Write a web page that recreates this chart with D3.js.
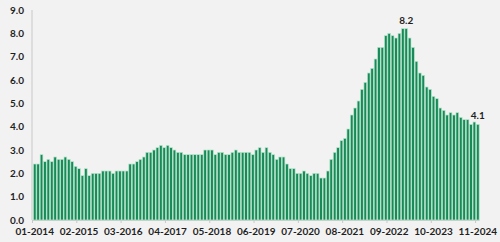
<!DOCTYPE html>
<html>
<head>
<meta charset="utf-8">
<script src="https://cdn.jsdelivr.net/npm/d3@7/dist/d3.min.js"></script>
<style>
  html, body { margin: 0; padding: 0; background: #f2f2f2; }
  svg { display: block; }
  text { font-family: Lato, "Open Sans", sans-serif; font-weight: 700; fill: #1f1f1f; }
</style>
</head>
<body>
<svg id="chart" width="500" height="242"></svg>
<script>
// Monthly values, 01-2014 .. 11-2024
const months = [];
for (let y = 2014; y <= 2024; y++) {
  for (let m = 1; m <= 12; m++) {
    if (y === 2024 && m > 11) break;
    months.push(String(m).padStart(2, "0") + "-" + y);
  }
}
const values = [
  2.4, 2.4, 2.8, 2.5, 2.6, 2.5, 2.7, 2.6, 2.6, 2.7, 2.6, 2.5,   // 2014
  2.3, 2.2, 1.9, 2.2, 1.9, 2.0, 2.0, 2.0, 2.1, 2.1, 2.1, 2.0,   // 2015
  2.1, 2.1, 2.1, 2.1, 2.4, 2.4, 2.5, 2.6, 2.7, 2.9, 2.9, 3.0,   // 2016
  3.1, 3.2, 3.1, 3.2, 3.1, 3.0, 2.9, 2.9, 2.8, 2.8, 2.8, 2.8,   // 2017
  2.8, 2.8, 3.0, 3.0, 3.0, 2.8, 2.9, 2.9, 2.8, 2.8, 2.9, 3.0,   // 2018
  2.9, 2.9, 2.9, 2.9, 2.8, 3.0, 3.1, 2.9, 3.1, 2.9, 2.8, 2.6,   // 2019
  2.7, 2.7, 2.4, 2.2, 2.2, 2.0, 2.0, 2.1, 2.0, 1.9, 2.0, 2.0,   // 2020
  1.8, 1.8, 2.1, 2.6, 2.9, 3.1, 3.4, 3.5, 3.9, 4.5, 4.8, 5.1,   // 2021
  5.6, 5.9, 6.3, 6.5, 6.9, 7.4, 7.4, 7.9, 8.0, 7.9, 7.8, 8.0,   // 2022
  8.2, 8.2, 7.8, 7.4, 6.8, 6.3, 6.2, 5.7, 5.6, 5.3, 5.2, 4.8,   // 2023
  4.7, 4.5, 4.6, 4.5, 4.6, 4.4, 4.3, 4.3, 4.1, 4.2, 4.1         // 2024
];
const yTicks = [0, 1, 2, 3, 4, 5, 6, 7, 8, 9];
const xTickLabels = ["01-2014","02-2015","03-2016","04-2017","05-2018","06-2019","07-2020","08-2021","09-2022","10-2023","11-2024"];
const labelledMonths = ["02-2023", "11-2024"];

const svg = d3.select("#chart");
const x = d3.scaleBand().domain(months).range([33, 479.5]).paddingInner(0).paddingOuter(0);
const y = d3.scaleLinear().domain([0, 9]).range([220, 10]);

// axis lines
svg.append("line").attr("x1", 32).attr("x2", 32).attr("y1", y(9)).attr("y2", y(0))
  .attr("stroke", "#c8c8c8").attr("stroke-width", 1);
svg.append("line").attr("x1", 32).attr("x2", x.range()[1]).attr("y1", y(0) + 0.5).attr("y2", y(0) + 0.5)
  .attr("stroke", "#c8c8c8").attr("stroke-width", 1);

// y axis
const yAxis = d3.axisLeft(y).tickValues(yTicks).tickFormat(d3.format(".1f")).tickSize(0).tickPadding(8);
const gy = svg.append("g").attr("transform", "translate(32,0)").call(yAxis);
gy.select(".domain").remove();
gy.selectAll("text").style("font-size", "10px").attr("fill", "#1f1f1f");

// bars
const bw = x.bandwidth();
svg.append("g").selectAll("rect").data(values).join("rect")
  .attr("x", (d, i) => x(months[i]) + bw * 0.1)
  .attr("width", bw * 0.8)
  .attr("y", d => y(d))
  .attr("height", d => y(0) - y(d))
  .attr("fill", "#178a58")
  .attr("stroke", "#b9e6cd")
  .attr("stroke-width", 0.7);

// x axis ticks & labels
const gx = svg.append("g");
gx.selectAll("line").data(xTickLabels).join("line")
  .attr("x1", d => x(d) - 0.5).attr("x2", d => x(d) - 0.5)
  .attr("y1", y(0)).attr("y2", y(0) + 3)
  .attr("stroke", "#c8c8c8");
gx.selectAll("text").data(xTickLabels).join("text")
  .attr("x", d => x(d) + bw / 2)
  .attr("y", 235)
  .attr("text-anchor", "middle")
  .style("font-size", "10px")
  .text(d => d);

// data labels
svg.append("g").selectAll("text").data(labelledMonths).join("text")
  .attr("x", d => x(d) + bw / 2)
  .attr("y", d => y(values[months.indexOf(d)]) - 5)
  .attr("text-anchor", "middle")
  .style("font-size", "10px")
  .text(d => d3.format(".1f")(values[months.indexOf(d)]));
</script>
</body>
</html>
